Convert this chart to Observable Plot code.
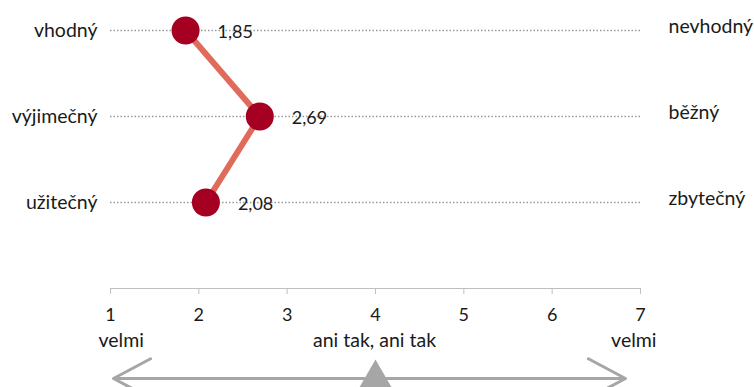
<!DOCTYPE html>
<html>
<head>
<meta charset="utf-8">
<script src="https://cdn.jsdelivr.net/npm/d3@7"></script>
<script src="https://cdn.jsdelivr.net/npm/@observablehq/plot@0.6"></script>
<style>
  html, body { margin: 0; padding: 0; background: #fff; }
  #chart svg { display: block; }
</style>
</head>
<body>
<div id="chart"></div>
<script>
// ---- data ----
const leftLabels = ["vhodný", "výjimečný", "užitečný"];
const rightLabels = ["nevhodný", "běžný", "zbytečný"];
const values = [1.85, 2.69, 2.08];
const valueLabels = ["1,85", "2,69", "2,08"];
const ticks = [1, 2, 3, 4, 5, 6, 7];
const scaleAnchors = [1, 4, 7];
const scaleTexts = ["velmi", "ani tak, ani tak", "velmi"];
const arrowEnds = [1.034, 6.83];
const centerValue = 4;

// ---- build rows ----
const rows = values.map((v, i) => ({
  row: i + 1,
  value: v,
  label: valueLabels[i],
  left: leftLabels[i],
  right: rightLabels[i]
}));
const axisRow = rows.length + 1;
const font = "Lato, 'Open Sans', sans-serif";
const scaleRows = scaleAnchors.map((a, i) => ({ x: a, text: scaleTexts[i] }));

const chart = Plot.plot({
  width: 754,
  height: 387,
  margin: 0,
  style: { fontFamily: font, fontSize: "18px", color: "#1a1a1a", background: "#fff" },
  x: { domain: [1, 7], range: [110, 640], axis: null },
  y: { domain: [1, axisRow], range: [30, 288], axis: null },
  marks: [
    // dotted gridlines
    Plot.ruleY(rows, { y: "row", x1: 1, x2: 7, stroke: "#9a9a9a", strokeWidth: 1.5, strokeDasharray: "1.5,2" }),
    // left / right labels
    Plot.text(rows, { x: () => 1, y: "row", text: "left", dx: -13, textAnchor: "end", fontSize: 19.5, fill: "#1a1a1a" }),
    Plot.text(rows, { x: () => 7, y: "row", text: "right", dx: 28, dy: -4, textAnchor: "start", fontSize: 19.5, fill: "#1a1a1a" }),
    // connecting line
    Plot.line(rows, { x: "value", y: "row", stroke: "#e06b5b", strokeWidth: 6 }),
    // dots
    Plot.dot(rows, { x: "value", y: "row", r: 14, fill: "#a50021" }),
    // value labels
    Plot.text(rows, { x: "value", y: "row", text: "label", dx: 32, dy: 2, textAnchor: "start", fontSize: 18, fill: "#1a1a1a" }),
    // axis line and ticks
    Plot.ruleY([axisRow], { x1: 1, x2: 7, stroke: "#bfbfbf", strokeWidth: 1 }),
    Plot.ruleX(ticks, { x: d => d, y1: axisRow, y2: axisRow, insetBottom: -6, stroke: "#bfbfbf", strokeWidth: 1 }),
    Plot.text(ticks, { x: d => d, y: () => axisRow, text: d => String(d), dy: 27, fontSize: 18, fill: "#1a1a1a" }),
    // scale descriptors
    Plot.text(scaleRows.slice(0, 1), { x: "x", y: () => axisRow, text: "text", dx: -12, dy: 52, textAnchor: "start", fontSize: 19.5, fill: "#1a1a1a" }),
    Plot.text(scaleRows.slice(1, 2), { x: "x", y: () => axisRow, text: "text", dx: -1, dy: 52, textAnchor: "middle", fontSize: 19.5, fill: "#1a1a1a" }),
    Plot.text(scaleRows.slice(2), { x: "x", y: () => axisRow, text: "text", dx: 16, dy: 52, textAnchor: "end", fontSize: 19.5, fill: "#1a1a1a" }),
    // double arrow
    Plot.arrow(arrowEnds, { x1: () => centerValue, x2: d => d, y1: () => axisRow, y2: () => axisRow, dy: 90, stroke: "#a6a6a6", strokeWidth: 3, headAngle: 56, headLength: 21 }),
    // center triangle
    Plot.dot([centerValue], { x: d => d, y: () => axisRow, dy: 97.6, symbol: "triangle", r: 17.1, fill: "#a6a6a6", stroke: "none" })
  ]
});
document.getElementById("chart").appendChild(chart);
</script>
</body>
</html>
